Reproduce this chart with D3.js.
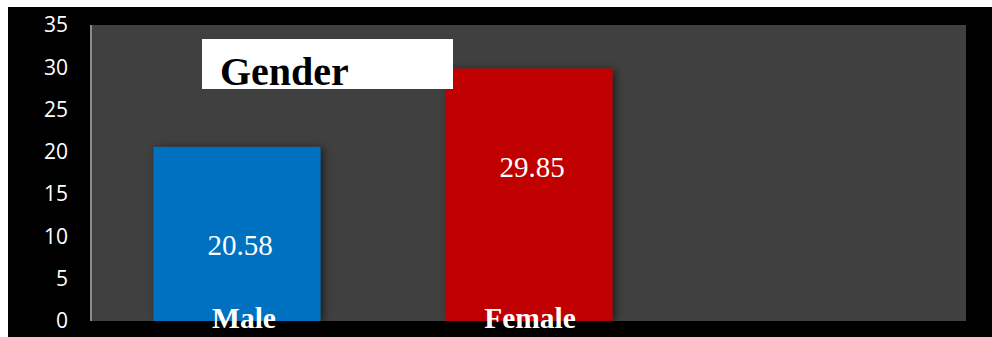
<!DOCTYPE html>
<html>
<head>
<meta charset="utf-8">
<script src="https://cdn.jsdelivr.net/npm/d3@7"></script>
<style>
  html, body { margin: 0; padding: 0; background: #ffffff; }
  svg { display: block; }
</style>
</head>
<body>
<script>
// ---- data ----
const categories = ["Male", "Female", ""];
const values = [20.58, 29.85, null];
const barColors = ["#0070C0", "#C00000", "#000000"];
const yTicks = [0, 5, 10, 15, 20, 25, 30, 35];
const chartTitle = "Gender";

// ---- layout ----
const W = 992, H = 337;
const plot = { left: 90, top: 25, right: 966, bottom: 321 };

const svg = d3.select("body").append("svg").attr("width", W).attr("height", H);

const defs = svg.append("defs");
const f = defs.append("filter").attr("id", "shadow")
  .attr("x", "-20%").attr("y", "-20%").attr("width", "140%").attr("height", "140%");
f.append("feDropShadow").attr("dx", 3).attr("dy", 1).attr("stdDeviation", 4)
  .attr("flood-color", "#000").attr("flood-opacity", 0.55);

// outer black background
svg.append("rect").attr("x", 8).attr("y", 7).attr("width", W - 8).attr("height", H - 7).attr("fill", "#000");

// plot area
svg.append("rect").attr("x", plot.left).attr("y", plot.top)
  .attr("width", plot.right - plot.left).attr("height", plot.bottom - plot.top)
  .attr("fill", "#404040");

const x = d3.scaleBand().domain(categories).range([plot.left, plot.right]).paddingInner(0).paddingOuter(0);
const y = d3.scaleLinear().domain([0, 35]).range([plot.bottom, plot.top]);
const barW = x.bandwidth() / 1.75;

const data = categories.map((c, i) => ({ c, v: values[i], color: barColors[i] })).filter(d => d.v != null);

// bars
svg.append("g").selectAll("rect").data(data).join("rect")
  .attr("x", d => x(d.c) + (x.bandwidth() - barW) / 2 + 1)
  .attr("y", d => y(d.v))
  .attr("width", barW)
  .attr("height", d => y(0) - y(d.v))
  .attr("fill", d => d.color)
  .attr("filter", "url(#shadow)");

// y axis
const yAxis = d3.axisLeft(y).tickValues(yTicks).tickSize(0).tickPadding(22).tickFormat(d3.format("d"));
const ga = svg.append("g").attr("transform", `translate(${plot.left},0)`).call(yAxis);
ga.select(".domain").attr("stroke", "#8c8c8c").attr("stroke-width", 2)
  .attr("d", `M1,${plot.top}V${plot.bottom}`);
ga.selectAll("text").attr("fill", "#ffffff")
  .style("font-family", "'Open Sans', sans-serif").style("font-size", "21px");

// value labels
svg.append("g").selectAll("text").data(data).join("text")
  .attr("x", d => x(d.c) + x.bandwidth() / 2 + 4)
  .attr("y", d => y(d.v) + 108)
  .attr("text-anchor", "middle")
  .attr("fill", "#ffffff")
  .style("font-family", "'Liberation Serif', 'Times New Roman', serif")
  .style("font-size", "29px")
  .text(d => d.v.toFixed(2));

// category labels
svg.append("g").selectAll("text").data(data).join("text")
  .attr("x", (d, i) => x(d.c) + x.bandwidth() / 2 + (i === 0 ? 8 : 2))
  .attr("y", 328)
  .attr("text-anchor", "middle")
  .attr("fill", "#ffffff")
  .style("font-family", "'Liberation Serif', 'Times New Roman', serif")
  .style("font-weight", "bold")
  .style("font-size", "29.5px")
  .text(d => d.c);

// title box
svg.append("rect").attr("x", 202).attr("y", 39).attr("width", 251).attr("height", 50).attr("fill", "#ffffff");
svg.append("text").attr("x", 220).attr("y", 85)
  .attr("fill", "#000")
  .style("font-family", "'Liberation Serif', 'Times New Roman', serif")
  .style("font-weight", "bold")
  .style("font-size", "40px")
  .text(chartTitle);
</script>
</body>
</html>
